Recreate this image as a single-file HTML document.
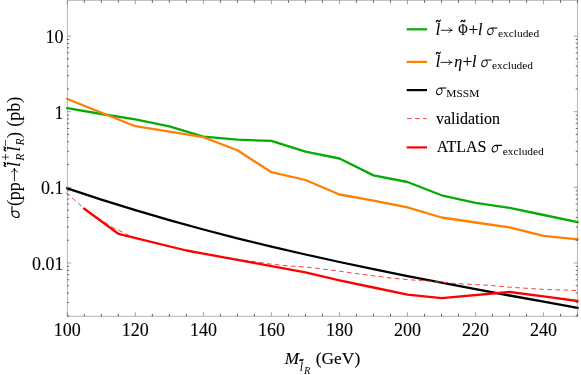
<!DOCTYPE html>
<html><head><meta charset="utf-8"><title>plot</title>
<style>
html,body{margin:0;padding:0;background:#fff;}
body{width:581px;height:375px;overflow:hidden;font-family:"Liberation Serif",serif;}
svg{display:block;will-change:transform;}
</style></head><body>
<svg width="581" height="375" viewBox="0 0 581 375">
<rect width="581" height="375" fill="#fff"/>
<defs><clipPath id="c"><rect x="66.1" y="0.3" width="512.7" height="315.9"/></clipPath></defs>
<g clip-path="url(#c)" fill="none" stroke-linejoin="round" stroke-linecap="butt">
<path d="M66.11 107.89 L67.30 108.10 L101.32 114.00 L135.34 119.40 L169.36 126.40 L203.38 136.70 L237.40 139.70 L271.42 140.90 L305.44 151.70 L339.46 158.50 L373.48 175.40 L407.50 182.00 L441.52 195.30 L475.54 202.80 L509.56 207.80 L543.58 215.00 L577.60 222.20 L578.79 222.45" stroke="#08aa08" stroke-width="2.3"/>
<path d="M66.11 98.52 L67.30 99.00 L135.34 126.20 L203.38 137.20 L237.40 150.30 L271.42 172.20 L305.44 180.00 L339.46 194.50 L373.48 200.60 L407.50 207.30 L441.52 217.50 L475.54 222.50 L509.56 227.30 L543.58 235.80 L577.60 239.30 L578.79 239.42" stroke="#ff8000" stroke-width="2.3"/>
<path d="M66.11 187.90 L67.30 188.30 L101.32 199.60 L135.34 210.20 L169.36 220.10 L203.38 229.50 L237.40 238.30 L271.42 246.60 L305.44 254.50 L339.46 262.00 L373.48 269.20 L407.50 276.10 L441.52 282.70 L475.54 289.20 L509.56 295.50 L543.58 301.70 L577.60 307.90 L578.79 308.12" stroke="#000" stroke-width="2.3"/>
<path d="M66.11 192.77 L67.30 193.80 L84.31 208.50 L94.52 215.60 L104.72 222.30 L113.91 228.30 L122.07 231.90 L129.90 236.00 L138.74 238.60 L152.35 242.10 L186.37 250.30 L203.38 253.40 L237.40 259.30 L271.42 264.20 L290.13 266.00 L305.44 266.90 L339.46 271.20 L359.87 274.00 L390.15 278.00 L407.50 279.60 L441.52 282.10 L455.13 283.50 L489.83 285.40 L509.56 287.20 L543.58 289.40 L577.60 290.50 L578.79 290.54" stroke="#ff3434" stroke-width="0.95" stroke-dasharray="4.7 3.35"/>
<path d="M83.29 208.05 L118.33 233.80 L186.37 250.50 L203.38 253.60 L237.40 259.80 L271.42 266.10 L305.44 272.40 L339.46 280.30 L373.48 287.50 L407.50 294.60 L441.52 298.20 L509.56 292.00 L543.58 296.40 L577.60 301.00 L578.79 301.16" stroke="#ff0000" stroke-width="2.3"/>
</g>
<path d="M67.40 0.35 H577.45 V316.30 H67.40 Z" fill="none" stroke="#6a6a6a" stroke-width="0.5"/>
<path d="M67.30 316.30 v-4.00 M67.30 0.35 v4.00 M135.34 316.30 v-4.00 M135.34 0.35 v4.00 M203.38 316.30 v-4.00 M203.38 0.35 v4.00 M271.42 316.30 v-4.00 M271.42 0.35 v4.00 M339.46 316.30 v-4.00 M339.46 0.35 v4.00 M407.50 316.30 v-4.00 M407.50 0.35 v4.00 M475.54 316.30 v-4.00 M475.54 0.35 v4.00 M543.58 316.30 v-4.00 M543.58 0.35 v4.00 M67.40 263.00 h3.80 M577.45 263.00 h-3.80 M67.40 187.35 h3.80 M577.45 187.35 h-3.80 M67.40 111.70 h3.80 M577.45 111.70 h-3.80 M67.40 36.05 h3.80 M577.45 36.05 h-3.80" fill="none" stroke="#5a5a5a" stroke-width="0.55"/>
<path d="M84.31 316.30 v-2.40 M84.31 0.35 v2.40 M101.32 316.30 v-2.40 M101.32 0.35 v2.40 M118.33 316.30 v-2.40 M118.33 0.35 v2.40 M152.35 316.30 v-2.40 M152.35 0.35 v2.40 M169.36 316.30 v-2.40 M169.36 0.35 v2.40 M186.37 316.30 v-2.40 M186.37 0.35 v2.40 M220.39 316.30 v-2.40 M220.39 0.35 v2.40 M237.40 316.30 v-2.40 M237.40 0.35 v2.40 M254.41 316.30 v-2.40 M254.41 0.35 v2.40 M288.43 316.30 v-2.40 M288.43 0.35 v2.40 M305.44 316.30 v-2.40 M305.44 0.35 v2.40 M322.45 316.30 v-2.40 M322.45 0.35 v2.40 M356.47 316.30 v-2.40 M356.47 0.35 v2.40 M373.48 316.30 v-2.40 M373.48 0.35 v2.40 M390.49 316.30 v-2.40 M390.49 0.35 v2.40 M424.51 316.30 v-2.40 M424.51 0.35 v2.40 M441.52 316.30 v-2.40 M441.52 0.35 v2.40 M458.53 316.30 v-2.40 M458.53 0.35 v2.40 M492.55 316.30 v-2.40 M492.55 0.35 v2.40 M509.56 316.30 v-2.40 M509.56 0.35 v2.40 M526.57 316.30 v-2.40 M526.57 0.35 v2.40 M560.59 316.30 v-2.40 M560.59 0.35 v2.40 M577.60 316.30 v-2.40 M577.60 0.35 v2.40 M67.40 315.88 h1.70 M577.45 315.88 h-1.70 M67.40 302.56 h1.70 M577.45 302.56 h-1.70 M67.40 293.10 h1.70 M577.45 293.10 h-1.70 M67.40 285.77 h1.70 M577.45 285.77 h-1.70 M67.40 279.78 h1.70 M577.45 279.78 h-1.70 M67.40 274.72 h1.70 M577.45 274.72 h-1.70 M67.40 270.33 h1.70 M577.45 270.33 h-1.70 M67.40 266.46 h1.70 M577.45 266.46 h-1.70 M67.40 240.23 h1.70 M577.45 240.23 h-1.70 M67.40 226.91 h1.70 M577.45 226.91 h-1.70 M67.40 217.45 h1.70 M577.45 217.45 h-1.70 M67.40 210.12 h1.70 M577.45 210.12 h-1.70 M67.40 204.13 h1.70 M577.45 204.13 h-1.70 M67.40 199.07 h1.70 M577.45 199.07 h-1.70 M67.40 194.68 h1.70 M577.45 194.68 h-1.70 M67.40 190.81 h1.70 M577.45 190.81 h-1.70 M67.40 164.58 h1.70 M577.45 164.58 h-1.70 M67.40 151.26 h1.70 M577.45 151.26 h-1.70 M67.40 141.80 h1.70 M577.45 141.80 h-1.70 M67.40 134.47 h1.70 M577.45 134.47 h-1.70 M67.40 128.48 h1.70 M577.45 128.48 h-1.70 M67.40 123.42 h1.70 M577.45 123.42 h-1.70 M67.40 119.03 h1.70 M577.45 119.03 h-1.70 M67.40 115.16 h1.70 M577.45 115.16 h-1.70 M67.40 88.93 h1.70 M577.45 88.93 h-1.70 M67.40 75.61 h1.70 M577.45 75.61 h-1.70 M67.40 66.15 h1.70 M577.45 66.15 h-1.70 M67.40 58.82 h1.70 M577.45 58.82 h-1.70 M67.40 52.83 h1.70 M577.45 52.83 h-1.70 M67.40 47.77 h1.70 M577.45 47.77 h-1.70 M67.40 43.38 h1.70 M577.45 43.38 h-1.70 M67.40 39.51 h1.70 M577.45 39.51 h-1.70" fill="none" stroke="#2a2a2a" stroke-width="0.75"/>
<g fill="none" stroke-width="2.2">
<path d="M406.7 29.3 H427" stroke="#08aa08"/>
<path d="M406.7 61.9 H427" stroke="#ff8000"/>
<path d="M406.7 90.1 H427" stroke="#000"/>
<path d="M407 118.6 H426.7" stroke="#ff3434" stroke-width="0.95" stroke-dasharray="4.7 3.35"/>
<path d="M406.7 147.4 H427" stroke="#ff0000"/>
</g>
<g font-family="'Liberation Serif', serif" fill="#000" stroke="#000" stroke-width="0.12">
<text x="435.67" y="34.80" font-size="16" font-style="italic" text-anchor="start">l</text>
<path d="M0 0.9 C0.7 -0.5 1.6 -0.5 2.4 0.2 C3.2 0.9 4.1 0.9 4.8 -0.5" transform="translate(436.20 20.70) scale(0.8500 1.1500)" fill="none" stroke="#000" stroke-width="1.25" stroke-linecap="round" stroke-linejoin="round"/>
<path d="M0 0 H10.9 M7.7 -2.3 C8.5 -0.9 9.9 -0.1 10.9 0 C9.9 0.1 8.5 0.9 7.7 2.3" transform="translate(441.29 30.30)" fill="none" stroke="#000" stroke-width="0.85" stroke-linecap="round" stroke-linejoin="round"/>
<text x="458.18" y="34.80" font-size="16" text-anchor="start" textLength="9.4" lengthAdjust="spacingAndGlyphs">Φ</text>
<path d="M0 0.9 C0.7 -0.5 1.6 -0.5 2.4 0.2 C3.2 0.9 4.1 0.9 4.8 -0.5" transform="translate(460.97 20.70) scale(0.8500 1.1500)" fill="none" stroke="#000" stroke-width="1.25" stroke-linecap="round" stroke-linejoin="round"/>
<text x="468.41" y="35.20" font-size="17.2" text-anchor="start">+</text>
<text x="477.94" y="34.80" font-size="16" font-style="italic" text-anchor="start">l</text>
<path d="M10.6 -6.9 H4.4 C1.9 -6.9 0.55 -4.6 0.55 -2.7 C0.55 -1.1 1.6 -0.45 2.9 -0.45 C5.0 -0.45 6.4 -2.5 6.4 -4.3 C6.4 -5.7 5.7 -6.6 4.6 -6.9" transform="translate(487.07 35.15) scale(0.9500 1.0400)" fill="none" stroke="#000" stroke-width="1.0" stroke-linecap="round" stroke-linejoin="round"/>
<text x="498.01" y="37.10" font-size="11.4" stroke="none" text-anchor="start">excluded</text>
<text x="435.67" y="66.80" font-size="16" font-style="italic" text-anchor="start">l</text>
<path d="M0 0.9 C0.7 -0.5 1.6 -0.5 2.4 0.2 C3.2 0.9 4.1 0.9 4.8 -0.5" transform="translate(436.20 52.80) scale(0.8500 1.1500)" fill="none" stroke="#000" stroke-width="1.25" stroke-linecap="round" stroke-linejoin="round"/>
<path d="M0 0 H10.9 M7.7 -2.3 C8.5 -0.9 9.9 -0.1 10.9 0 C9.9 0.1 8.5 0.9 7.7 2.3" transform="translate(441.05 62.40)" fill="none" stroke="#000" stroke-width="0.85" stroke-linecap="round" stroke-linejoin="round"/>
<text x="454.22" y="66.80" font-size="16" font-style="italic" text-anchor="start">η</text>
<text x="462.44" y="67.20" font-size="17.2" text-anchor="start">+</text>
<text x="472.05" y="66.80" font-size="16" font-style="italic" text-anchor="start">l</text>
<path d="M10.6 -6.9 H4.4 C1.9 -6.9 0.55 -4.6 0.55 -2.7 C0.55 -1.1 1.6 -0.45 2.9 -0.45 C5.0 -0.45 6.4 -2.5 6.4 -4.3 C6.4 -5.7 5.7 -6.6 4.6 -6.9" transform="translate(481.18 67.15) scale(0.9500 1.0400)" fill="none" stroke="#000" stroke-width="1.0" stroke-linecap="round" stroke-linejoin="round"/>
<text x="491.92" y="69.10" font-size="11.4" stroke="none" text-anchor="start">excluded</text>
<path d="M10.6 -6.9 H4.4 C1.9 -6.9 0.55 -4.6 0.55 -2.7 C0.55 -1.1 1.6 -0.45 2.9 -0.45 C5.0 -0.45 6.4 -2.5 6.4 -4.3 C6.4 -5.7 5.7 -6.6 4.6 -6.9" transform="translate(436.00 95.15) scale(0.9500 1.0400)" fill="none" stroke="#000" stroke-width="1.0" stroke-linecap="round" stroke-linejoin="round"/>
<text x="446.33" y="97.10" font-size="11.4" stroke="none" text-anchor="start">MSSM</text>
<text x="436.03" y="123.90" font-size="16" text-anchor="start">validation</text>
<text x="436.64" y="152.20" font-size="16" text-anchor="start">ATLAS</text>
<path d="M10.6 -6.9 H4.4 C1.9 -6.9 0.55 -4.6 0.55 -2.7 C0.55 -1.1 1.6 -0.45 2.9 -0.45 C5.0 -0.45 6.4 -2.5 6.4 -4.3 C6.4 -5.7 5.7 -6.6 4.6 -6.9" transform="translate(491.60 152.55) scale(0.9500 1.0400)" fill="none" stroke="#000" stroke-width="1.0" stroke-linecap="round" stroke-linejoin="round"/>
<text x="502.67" y="154.50" font-size="11.4" stroke="none" text-anchor="start">excluded</text>
<text x="67.30" y="336.40" font-size="18" text-anchor="middle">100</text>
<text x="135.34" y="336.40" font-size="18" text-anchor="middle">120</text>
<text x="203.38" y="336.40" font-size="18" text-anchor="middle">140</text>
<text x="271.42" y="336.40" font-size="18" text-anchor="middle">160</text>
<text x="339.46" y="336.40" font-size="18" text-anchor="middle">180</text>
<text x="407.50" y="336.40" font-size="18" text-anchor="middle">200</text>
<text x="475.54" y="336.40" font-size="18" text-anchor="middle">220</text>
<text x="543.58" y="336.40" font-size="18" text-anchor="middle">240</text>
<text x="63.40" y="42.85" font-size="18" text-anchor="end">10</text>
<text x="63.40" y="118.50" font-size="18" text-anchor="end">1</text>
<text x="63.40" y="194.15" font-size="18" text-anchor="end">0.1</text>
<text x="63.40" y="269.80" font-size="18" text-anchor="end">0.01</text>
<text x="284.75" y="364.30" font-size="17.2" font-style="italic" text-anchor="start">M</text>
<text x="299.75" y="370.80" font-size="11.8" font-style="italic" stroke="none" text-anchor="start">l</text>
<path d="M0 0.9 C0.7 -0.5 1.6 -0.5 2.4 0.2 C3.2 0.9 4.1 0.9 4.8 -0.5" transform="translate(299.82 359.90) scale(0.6600 0.8000)" fill="none" stroke="#000" stroke-width="1.9" stroke-linecap="round" stroke-linejoin="round"/>
<text x="304.02" y="373.50" font-size="10.3" font-style="italic" stroke="none" text-anchor="start">R</text>
<text x="315.77" y="364.40" font-size="17.4" text-anchor="start">(GeV)</text>
<g transform="translate(19.70 218.10) rotate(-90)">
<text x="12.07" y="0.00" font-size="18" text-anchor="start">(</text>
<text x="17.77" y="0.00" font-size="18" text-anchor="start">p</text>
<text x="26.87" y="0.00" font-size="18" text-anchor="start">p</text>
<path d="M10.6 -6.9 H4.4 C1.9 -6.9 0.55 -4.6 0.55 -2.7 C0.55 -1.1 1.6 -0.45 2.9 -0.45 C5.0 -0.45 6.4 -2.5 6.4 -4.3 C6.4 -5.7 5.7 -6.6 4.6 -6.9" transform="translate(-0.05 0.00) scale(1.1250)" fill="none" stroke="#000" stroke-width="1.0" stroke-linecap="round" stroke-linejoin="round"/>
<path d="M0 0 H12.5 M8.9 -3.0 C9.8 -1.2 11.4 -0.1 12.5 0 C11.4 0.1 9.8 1.2 8.9 3.0" transform="translate(37.19 -5.30)" fill="none" stroke="#000" stroke-width="0.9" stroke-linecap="round" stroke-linejoin="round"/>
<text x="51.10" y="0.00" font-size="18" font-style="italic" text-anchor="start">l</text>
<path d="M0 0.9 C0.7 -0.5 1.6 -0.5 2.4 0.2 C3.2 0.9 4.1 0.9 4.8 -0.5" transform="translate(51.65 -15.10) scale(0.8000 1.1000)" fill="none" stroke="#000" stroke-width="1.5" stroke-linecap="round" stroke-linejoin="round"/>
<text x="57.05" y="-9.80" font-size="13.8" stroke="none" text-anchor="start">+</text>
<text transform="translate(57.28 3.90) scale(0.900 1)" font-size="13" font-style="italic" stroke="none" text-anchor="start">R</text>
<text x="66.67" y="0.00" font-size="18" font-style="italic" text-anchor="start">l</text>
<path d="M0 0.9 C0.7 -0.5 1.6 -0.5 2.4 0.2 C3.2 0.9 4.1 0.9 4.8 -0.5" transform="translate(67.22 -15.10) scale(0.8000 1.1000)" fill="none" stroke="#000" stroke-width="1.5" stroke-linecap="round" stroke-linejoin="round"/>
<text x="71.40" y="-9.80" font-size="13.8" stroke="none" text-anchor="start">−</text>
<text transform="translate(72.48 3.90) scale(0.900 1)" font-size="13" font-style="italic" stroke="none" text-anchor="start">R</text>
<text x="80.21" y="0.00" font-size="18" text-anchor="start">)</text>
<text x="91.27" y="0.00" font-size="18" text-anchor="start">(pb)</text>
</g></g>
</svg>
</body></html>
